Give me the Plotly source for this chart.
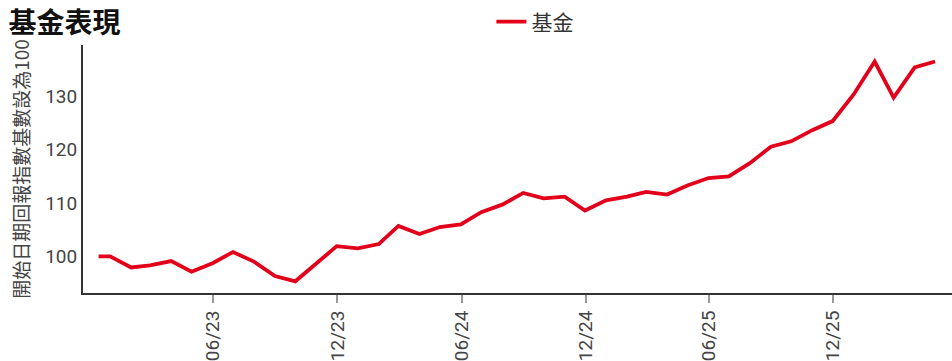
import plotly.graph_objects as go

# Fund index values (start date rebased to 100), month-end observations
dates = [
    "2022-12-14", "2022-12-31",
    "2023-01-31", "2023-02-28", "2023-03-31", "2023-04-30", "2023-05-31", "2023-06-30",
    "2023-07-31", "2023-08-31", "2023-09-30", "2023-10-31", "2023-11-30", "2023-12-31",
    "2024-01-31", "2024-02-29", "2024-03-31", "2024-04-30", "2024-05-31", "2024-06-30",
    "2024-07-31", "2024-08-31", "2024-09-30", "2024-10-31", "2024-11-30", "2024-12-31",
    "2025-01-31", "2025-02-28", "2025-03-31", "2025-04-30", "2025-05-31", "2025-06-30",
    "2025-07-31", "2025-08-31", "2025-09-30", "2025-10-31", "2025-11-30", "2025-12-31",
    "2026-01-31", "2026-02-28", "2026-03-31", "2026-04-30",
]
fund_values = [
    100.0, 100.0,
    97.9, 98.3, 99.1, 97.1, 98.7, 100.8,
    99.0, 96.3, 95.3, 98.7, 101.9, 101.5,
    102.3, 105.7, 104.2, 105.5, 106.0, 108.3,
    109.7, 111.9, 110.9, 111.2, 108.6, 110.5,
    111.2, 112.1, 111.6, 113.3, 114.7, 115.0,
    117.5, 120.6, 121.6, 123.7, 125.4, 130.4,
    136.6, 129.8, 135.5, 136.6,
]
x_tick_dates = ["2023-06-01", "2023-12-01", "2024-06-01", "2024-12-01", "2025-06-01", "2025-12-01"]
x_tick_labels = ["06/23", "12/23", "06/24", "12/24", "06/25", "12/25"]
y_ticks = [100, 110, 120, 130]

series_name = "基金"
chart_title = "基金表現"
y_title = "開始日期回報指數基數設為100"

FONT = "Roboto, 'Noto Sans CJK TC', sans-serif"
CJK = "'Noto Sans CJK TC', Roboto, sans-serif"

fig = go.Figure()
fig.add_trace(go.Scatter(
    x=dates, y=fund_values, mode="lines", name=series_name,
    line=dict(color="#e2001a", width=3.8),
))

fig.update_layout(
    width=952, height=361,
    margin=dict(l=83, r=0, t=45, b=66),
    paper_bgcolor="white", plot_bgcolor="white",
    font=dict(family=FONT, size=19, color="#444"),
    title=dict(
        text=f"<b>{chart_title}</b>", font=dict(family=CJK, size=28, color="#111"),
        xref="container", yref="container", x=0.009, xanchor="left",
        y=1 - 23 / 361, yanchor="middle",
    ),
    showlegend=True,
    legend=dict(
        orientation="h", xref="paper", yref="container",
        x=0.52, xanchor="center", y=1 - 22 / 361, yanchor="middle",
        font=dict(family=CJK, size=21, color="#333"),
        bgcolor="rgba(0,0,0,0)",
    ),
    xaxis=dict(
        type="date", range=["2022-11-21", "2026-05-25"],
        tickvals=x_tick_dates, ticktext=x_tick_labels, tickangle=-90,
        ticks="outside", ticklen=8, tickwidth=2, tickcolor="#999",
        showline=True, linecolor="#333", linewidth=2,
        showgrid=False, zeroline=False,
        tickfont=dict(size=19, color="#444"),
    ),
    yaxis=dict(
        range=[93.1, 139.7], tickvals=y_ticks,
        ticks="", showline=True, linecolor="#333", linewidth=2,
        showgrid=False, zeroline=False,
        tickfont=dict(size=19, color="#444"),
        title=dict(text=y_title, font=dict(family=CJK, size=19, color="#444"), standoff=11),
    ),
)

fig.write_html("out.html")
